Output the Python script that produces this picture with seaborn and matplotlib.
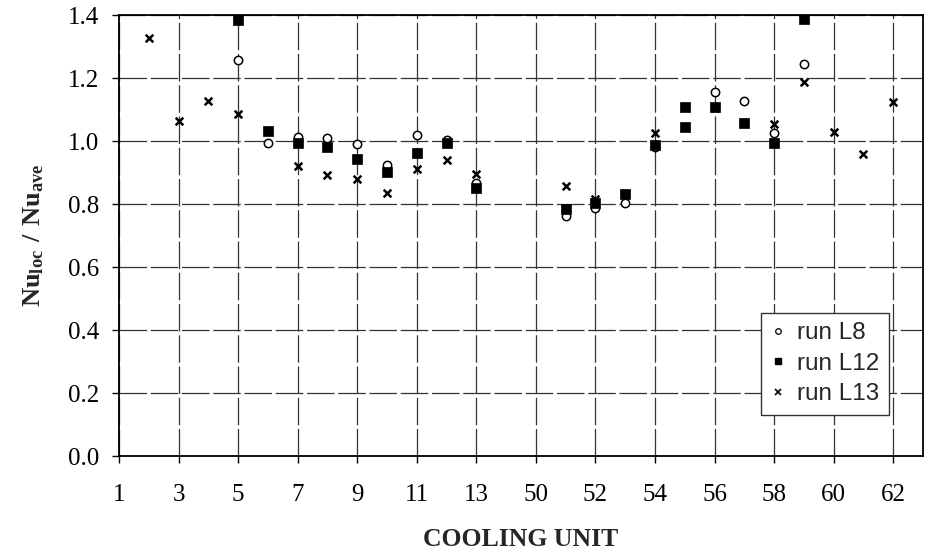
import matplotlib
matplotlib.use("Agg")
import matplotlib.pyplot as plt
from matplotlib.lines import Line2D
import seaborn as sns
import pandas as pd

# Categories on the x axis (a blank slot separates 13 and 50)
categories = [str(i) for i in range(1, 14)] + [" "] + [str(i) for i in range(50, 63)]
tick_labels = ["1", "3", "5", "7", "9", "11", "13", "50", "52", "54", "56", "58", "60", "62"]

l8_units = [5, 6, 7, 8, 9, 10, 11, 12, 13, 51, 52, 53, 54, 56, 57, 58, 59]
l8_vals = [1.256, 0.993, 1.012, 1.011, 0.990, 0.925, 1.020, 1.004, 0.866,
           0.762, 0.786, 0.804, 0.980, 1.157, 1.128, 1.026, 1.244]

l12_units = [5, 6, 7, 8, 9, 10, 11, 12, 13, 51, 52, 53, 54, 55, 55, 56, 57, 58, 59]
l12_vals = [1.384, 1.032, 0.995, 0.982, 0.942, 0.903, 0.961, 0.993, 0.852,
            0.783, 0.802, 0.831, 0.987, 1.109, 1.045, 1.109, 1.058, 0.993, 1.387]

l13_units = [2, 3, 4, 5, 7, 8, 9, 10, 11, 12, 13, 51, 52, 54, 56, 58, 59, 60, 61, 62]
l13_vals = [1.328, 1.065, 1.127, 1.086, 0.921, 0.893, 0.881, 0.834, 0.912, 0.940,
            0.895, 0.857, 0.817, 1.024, 1.105, 1.054, 1.187, 1.028, 0.958, 1.125]

sns.set_theme(style="white")
plt.rcParams["font.family"] = ["Liberation Serif", "DejaVu Serif"]
plt.rcParams["mathtext.fontset"] = "custom"
plt.rcParams["mathtext.rm"] = "Liberation Serif"
plt.rcParams["mathtext.bf"] = "Liberation Serif:bold"

fig = plt.figure(figsize=(9.52, 5.57), dpi=100)
ax = fig.add_axes([0.125, 0.1813, 0.8445, 0.7917])

def frame(units, vals):
    return pd.DataFrame({"unit": [str(u) for u in units], "val": vals})

sns.stripplot(data=frame(l8_units, l8_vals), x="unit", y="val", order=categories,
              jitter=False, marker="o", size=6, color="white",
              edgecolor="black", linewidth=1.1, ax=ax, zorder=3)
sns.stripplot(data=frame(l12_units, l12_vals), x="unit", y="val", order=categories,
              jitter=False, marker="s", size=6.5, color="black",
              edgecolor="black", linewidth=0.5, ax=ax, zorder=3)
sns.stripplot(data=frame(l13_units, l13_vals), x="unit", y="val", order=categories,
              jitter=False, marker="x", size=5.5, color="black",
              linewidth=1.8, ax=ax, zorder=3)

ax.set_xlim(0, len(categories))
ax.set_ylim(0, 1.4)
ax.set_xticks(range(0, len(categories), 2))
ax.set_xticklabels(tick_labels)
ax.set_yticks([0, 0.2, 0.4, 0.6, 0.8, 1.0, 1.2, 1.4])
ax.set_yticklabels([f"{v:.1f}" for v in [0, 0.2, 0.4, 0.6, 0.8, 1.0, 1.2, 1.4]])

ax.set_axisbelow(True)
ax.grid(True, color="#333333", linestyle=(0, (22, 3)), linewidth=0.9)

for s in ax.spines.values():
    s.set_color("black")
    s.set_linewidth(1.3)
    s.set_visible(True)

ax.tick_params(axis="x", direction="out", length=5, width=1, pad=15, labelsize=18, colors="black")
ax.tick_params(axis="y", direction="out", length=5, width=1, pad=9, labelsize=18, colors="black")
ax.tick_params(bottom=True, left=True)

ax.set_xlabel("COOLING UNIT", fontsize=18.5, fontweight="bold", labelpad=16)
ax.set_ylabel(r"$\mathbf{Nu_{loc}\ /\ Nu_{ave}}$", fontsize=19, labelpad=16)

handles = [
    Line2D([], [], linestyle="none", marker="o", markersize=4, markerfacecolor="white",
           markeredgecolor="black", markeredgewidth=0.9, label="run L8"),
    Line2D([], [], linestyle="none", marker="s", markersize=4, markerfacecolor="black",
           markeredgecolor="black", label="run L12"),
    Line2D([], [], linestyle="none", marker="x", markersize=4, color="black",
           markeredgewidth=1.2, label="run L13"),
]
leg = ax.legend(handles=handles, loc="lower left", bbox_to_anchor=(0.7985, 0.093),
                borderaxespad=0, frameon=True, fancybox=False, handlelength=0.6,
                handletextpad=0.5, labelspacing=0.35, borderpad=0.4,
                prop={"family": "Liberation Sans", "size": 17.5})
leg.get_frame().set_edgecolor("#333333")
leg.get_frame().set_linewidth(1.0)
leg.get_frame().set_facecolor("white")
leg.get_frame().set_alpha(1)

fig.savefig("out.png", dpi=100)
